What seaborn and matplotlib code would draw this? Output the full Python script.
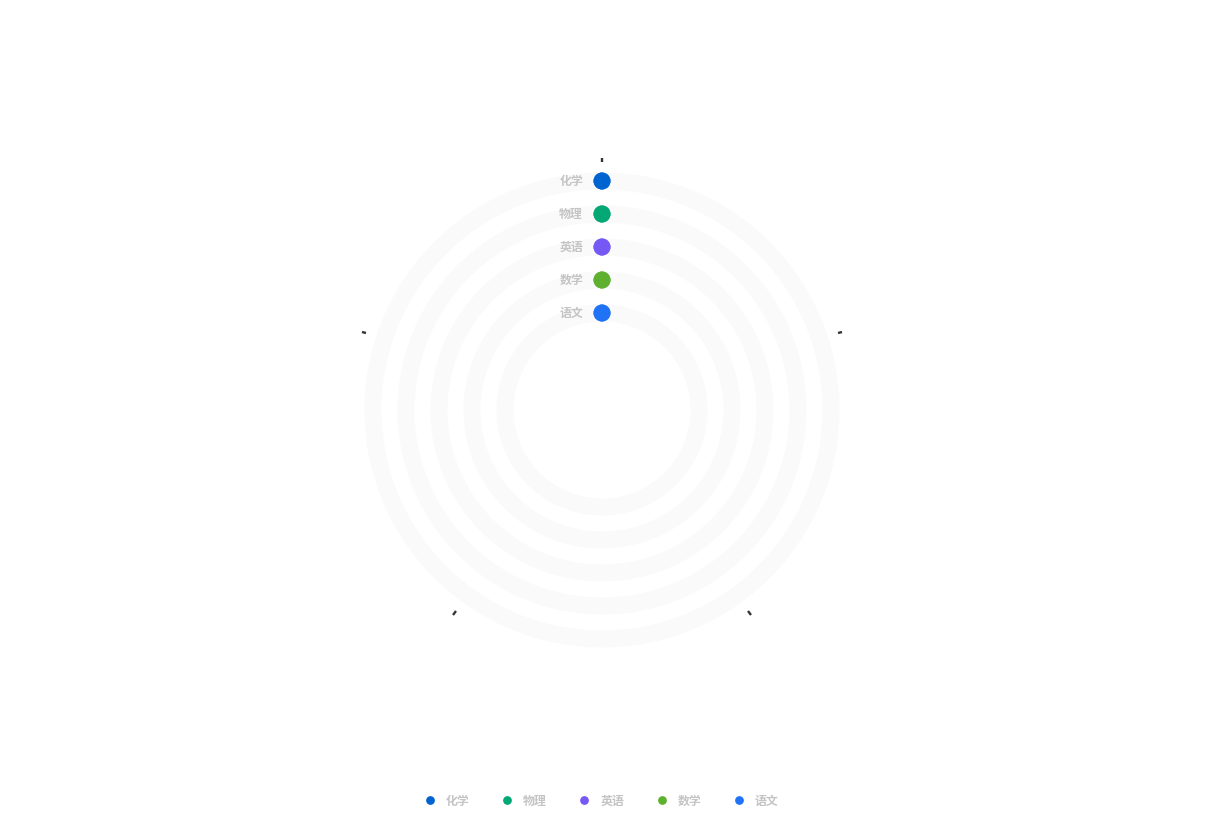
import numpy as np
import pandas as pd
import matplotlib
matplotlib.use("Agg")
import matplotlib.pyplot as plt
from matplotlib.lines import Line2D
import seaborn as sns

# =============================
# DATOS
# =============================
subjects = ["化学", "物理", "英语", "数学", "语文"]
scores = [0, 0, 0, 0, 0]
colors = ["#0064D0", "#04A874", "#7658F5", "#5DB12E", "#2173F6"]
angle_max = 100

sns.set_theme(style="white")
plt.rcParams["font.family"] = ["Noto Sans CJK SC", "DejaVu Sans"]

W, H = 1205, 823
cx, cy = 602, 410
R = 248
fig = plt.figure(figsize=(W / 100, H / 100), dpi=100)
ax = fig.add_axes([(cx - R) / W, (H - cy - R) / H, 2 * R / W, 2 * R / H], projection="polar")
ax.set_theta_zero_location("N")
ax.set_theta_direction(-1)
ax.set_ylim(0, R)
ax.set_yticks([])
ax.set_xticks(np.deg2rad(np.arange(0, 360, 72)))
ax.set_xticklabels([])
ax.tick_params(axis="x", which="major", bottom=False, top=True, length=3.2, width=1.7,
               color="#333333", direction="out", pad=0)
ax.grid(False)
ax.spines["polar"].set_visible(False)
ax.set_facecolor("none")

# radios de cada barra (exterior -> interior)
radii = [229, 196, 163, 130, 97]
bar_px = 17
bar_pt = bar_px * 72 / 100

df = pd.DataFrame({"subject": subjects, "score": scores, "r": radii})
df["theta"] = np.deg2rad(df["score"] / angle_max * 360)

theta_full = np.linspace(0, 2 * np.pi, 400)
for r in df["r"]:
    ax.plot(theta_full, np.full_like(theta_full, r), color="#fafafa", lw=bar_pt, zorder=1)

for i, row in df.iterrows():
    t = np.linspace(0, row["theta"], 50)
    ax.plot(t, np.full_like(t, row["r"]), color=colors[i], lw=bar_pt,
            solid_capstyle="round", zorder=2)

sns.scatterplot(x=np.zeros(len(df)), y=df["r"], hue=df["subject"], palette=colors,
                s=bar_pt ** 2, linewidth=0, legend=False, ax=ax, zorder=3)
sns.scatterplot(x=df["theta"], y=df["r"], hue=df["subject"], palette=colors,
                s=bar_pt ** 2, linewidth=0, legend=False, ax=ax, zorder=3)
ax.set_xlabel("")
ax.set_ylabel("")
ax.set_ylim(0, R)

for i, row in df.iterrows():
    ax.annotate(row["subject"], xy=(0, row["r"]), xytext=(-19 * 0.72, 0),
                textcoords="offset points", ha="right", va="center",
                fontsize=8.6, color="#c4c4c4", fontweight="bold")

handles = [Line2D([0], [0], marker="o", linestyle="none", markersize=6.3,
                  markerfacecolor=c, markeredgewidth=0) for c in colors]
fig.legend(handles, subjects, loc="center", bbox_to_anchor=(602 / W, (H - 801) / H),
           ncol=5, frameon=False, prop={"size": 8.6, "weight": "bold"},
           labelcolor="#c4c4c4",
           handlelength=0.75, handletextpad=0.95, columnspacing=2.77)

fig.savefig("out.png", dpi=100)
